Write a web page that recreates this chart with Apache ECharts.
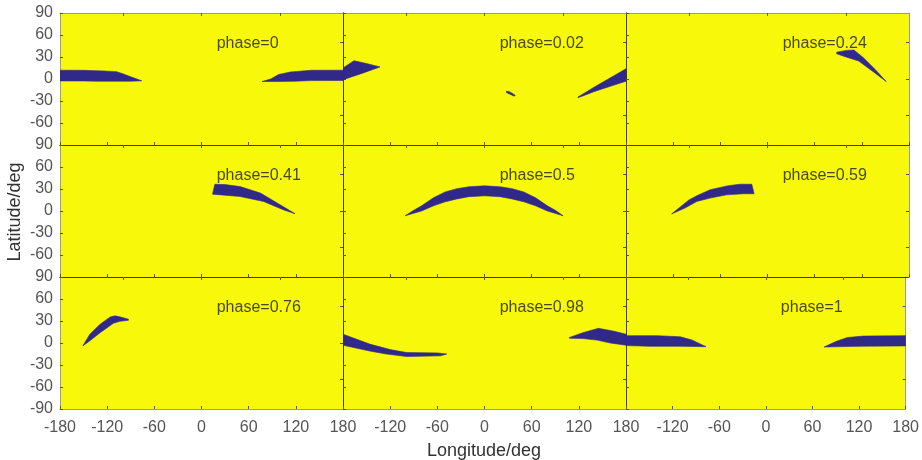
<!DOCTYPE html>
<html><head><meta charset="utf-8">
<script src="https://cdn.jsdelivr.net/npm/echarts@6/dist/echarts.min.js"></script>
<style>html,body{margin:0;padding:0;background:#fff}#c{width:922px;height:460px}</style>
</head><body><div id="c"></div><script>
// ---- data ----
const phaseLabels = ['phase=0','phase=0.02','phase=0.24','phase=0.41','phase=0.5','phase=0.59','phase=0.76','phase=0.98','phase=1'];
const labelPos = [20, 47];               // [lon, lat] of the phase label (left-middle)
const lonTicks = [-180,-120,-60,0,60,120,180];
const latTicks = [-90,-60,-30,0,30,60,90];
const topTicks = [-100,0,100];
const rightTicks = [-50,0,50];

// polygons [lon, lat]
const p0a = [[-180,12],[-150,11.8],[-125,11],[-108,10],[-100,7],[-90,3],[-76,-2.5],[-90,-3],[-133,-3],[-150,-2.7],[-180,-2.7]];
const p0b = [[77,-3.5],[88,0],[98,6],[113,9.6],[140,11.9],[180,12],[180,-2],[140,-2.2],[120,-3],[100,-3.3]];
const p1a = [[-180,-1],[-180,15],[-166,25],[-150,21],[-133,16.5],[-155,8],[-180,-1]];
const p1b = [[28,-16.5],[33,-18],[39,-22],[38,-23.5],[33,-21],[28,-18.5]];
const p1c = [[119,-24.5],[142,-9.5],[164,4],[180,14],[180,-3],[160,-10],[140,-17],[119,-25.5]];
const p2a = [[88,36.5],[100,39],[110,39.5],[122,29],[137,13],[151,-3.5],[135,9.5],[116,24.5],[97,31],[88,34.5]];
const p3a = [[14,23],[17,36.5],[30,36],[49,33.3],[75,24.4],[100,8.5],[119,-3.7],[104,1.7],[79,13],[49,19.8],[14,23]];
const p4a = [[-101,-6.5],[-90,1],[-80,7],[-65,18],[-50,26],[-35,30.5],[-20,33],[0,34.3],[20,33],[35,30.5],[50,26],[65,18],[80,7],[90,1],[100,-6.5],
             [80,0],[65,7],[50,12.5],[35,16.5],[20,19.5],[0,20.7],[-20,19.5],[-35,16.5],[-50,12.5],[-65,7],[-80,0]];
const p5a = [[-122,-4],[-100,15],[-90,20.7],[-73,29],[-50,34.5],[-35,36.5],[-20,36.5],[-17,23.5],[-31,23.5],[-52,22],[-73,17.6],[-90,13],[-105,4],[-122,-4]];
const p6a = [[-151,-4],[-142,12],[-129,25.5],[-116,35.5],[-110,37],[-103,35.5],[-93,32.5],[-93,31],[-104,29.5],[-112,27],[-129,14],[-142,3],[-151,-4]];
const p7a = [[-180,12],[-146,-1.5],[-120,-9],[-99,-13],[-60,-13.5],[-48,-15],[-56,-17.5],[-99,-18.5],[-125,-15],[-146,-11],[-180,-3]];
const p7b = [[108,7.5],[125,14],[145,20],[165,16],[180,12],[180,-3],[160,0],[143,4],[125,6],[108,6.5]];
const p8a = [[-180,10],[-140,10],[-110,8.5],[-95,4],[-77,-5],[-110,-4.5],[-150,-4.5],[-180,-3.5]];
const p8b = [[75,-5.5],[90,2],[105,7.5],[126,9.5],[180,10],[180,-4],[120,-4.5],[75,-5.5]];

const panelShapes = [[p0a,p0b],[p1a,p1b,p1c],[p2a],[p3a],[p4a],[p5a],[p6a],[p7a,p7b],[p8a,p8b]];

// ---- layout ----
const colLeft = [60, 343, 626];
const colW = 283;
const rowTop = [13, 145, 277];
const rowH = 132;
const YELLOW = '#F8F80A';
const BLUE = '#30298A';
const FONT = '"Liberation Sans", Arial, sans-serif';
const OUTER = '#9a9a9a', INNER = '#3c3c28';

const grids = [], xAxes = [], yAxes = [], series = [];
for (let i = 0; i < 9; i++) {
  const r = Math.floor(i / 3), c = i % 3;
  grids.push({left: colLeft[c], top: rowTop[r], width: colW, height: rowH,
    show: true, backgroundColor: YELLOW, borderWidth: 0});
  const tick = {show: true, inside: true, length: 3, lineStyle: {color: '#555'}};
  xAxes.push({type: 'value', gridIndex: i, position: 'bottom', min: -180, max: 180, interval: 60,
    axisLine: {show: true, onZero: false, lineStyle: {color: r === 2 ? OUTER : INNER}},
    axisTick: tick, splitLine: {show: false},
    axisLabel: {show: r === 2, showMinLabel: c === 0, margin: 11, fontSize: 16, color: '#555', fontFamily: FONT,
      customValues: lonTicks}});
  xAxes.push({type: 'value', gridIndex: i, position: 'top', min: -180, max: 180,
    axisLine: {show: true, onZero: false, lineStyle: {color: r === 0 ? OUTER : INNER}},
    axisTick: Object.assign({}, tick, {customValues: topTicks}), splitLine: {show: false},
    axisLabel: {show: false}});
  yAxes.push({type: 'value', gridIndex: i, position: 'left', min: -90, max: 90, interval: 30,
    axisLine: {show: true, onZero: false, lineStyle: {color: c === 0 ? OUTER : INNER}},
    axisTick: tick, splitLine: {show: false},
    axisLabel: {show: c === 0, showMinLabel: r === 2, margin: 7, fontSize: 16, color: '#555', fontFamily: FONT,
      customValues: latTicks}});
  yAxes.push({type: 'value', gridIndex: i, position: 'right', min: -90, max: 90,
    axisLine: {show: true, onZero: false, lineStyle: {color: c === 2 ? OUTER : INNER}},
    axisTick: Object.assign({}, tick, {customValues: rightTicks}), splitLine: {show: false},
    axisLabel: {show: false}});
  const shapes = panelShapes[i];
  series.push({
    type: 'custom', xAxisIndex: 2 * i, yAxisIndex: 2 * i, clip: true, silent: true,
    data: shapes.map((s, k) => [k]),
    renderItem: function (params, api) {
      const pts = shapes[api.value(0)].map(p => api.coord(p));
      return {type: 'polygon', shape: {points: pts, smooth: 0}, style: {fill: BLUE, stroke: BLUE, lineWidth: 0.6}};
    }
  });
  series.push({
    type: 'scatter', xAxisIndex: 2 * i, yAxisIndex: 2 * i, silent: true,
    symbolSize: 1, itemStyle: {color: 'rgba(0,0,0,0)'},
    data: [labelPos],
    label: {show: true, position: [0, 0], align: 'left', verticalAlign: 'middle',
      formatter: phaseLabels[i], fontSize: 16, color: '#1a1a1a', fontFamily: FONT}
  });
}

const chart = echarts.init(document.getElementById('c'));
chart.setOption({
  animation: false,
  backgroundColor: '#fff',
  grid: grids, xAxis: xAxes, yAxis: yAxes, series: series,
  graphic: [
    {type: 'text', x: 484, y: 451, style: {text: 'Longitude/deg', font: '18px ' + FONT, fill: '#333',
      align: 'center', verticalAlign: 'middle', textAlign: 'center', textVerticalAlign: 'middle'}},
    {type: 'text', x: 15, y: 212, rotation: Math.PI / 2, style: {text: 'Latitude/deg', font: '18px ' + FONT, fill: '#333',
      align: 'center', verticalAlign: 'middle', textAlign: 'center', textVerticalAlign: 'middle'}}
  ]
});
</script></body></html>
